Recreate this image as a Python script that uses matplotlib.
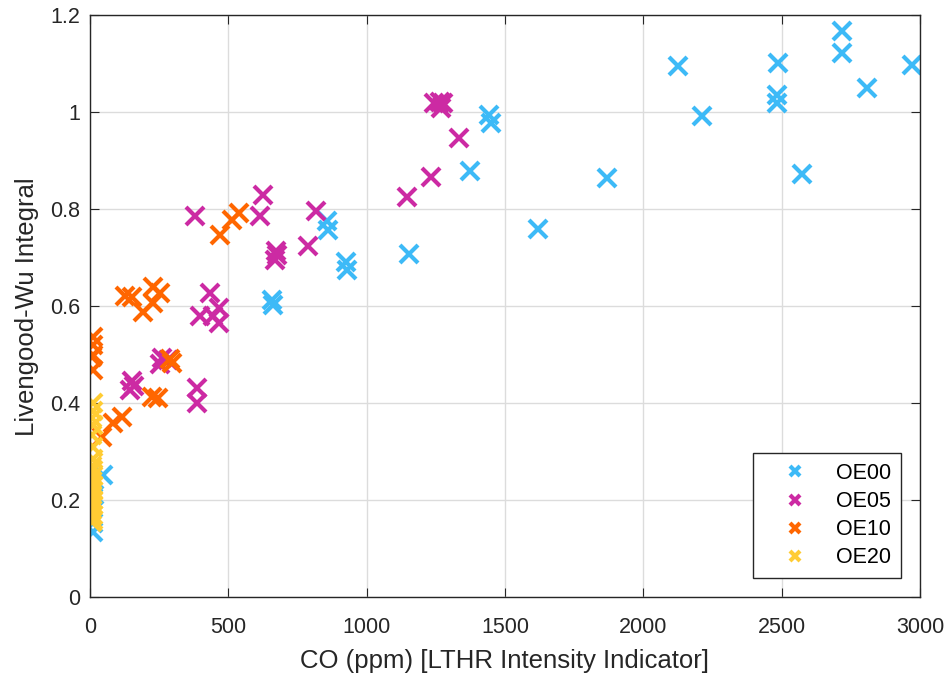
import matplotlib.pyplot as plt
import numpy as np
from matplotlib.ticker import FuncFormatter

plt.rcParams['font.family'] = ['Liberation Sans', 'DejaVu Sans']

# OE00
co_oe00 = [2717, 2717, 2972, 2127, 2488, 2810, 2484, 2484, 2211, 2575, 1870,
           1443, 1448, 1373, 1619, 1153, 858, 862, 925, 930, 657, 662,
           48, 10, 15, 12, 12]
lw_oe00 = [1.168, 1.122, 1.098, 1.096, 1.101, 1.050, 1.036, 1.019, 0.992, 0.873, 0.864,
           0.994, 0.979, 0.878, 0.759, 0.708, 0.775, 0.757, 0.691, 0.675, 0.613, 0.603,
           0.252, 0.235, 0.21, 0.153, 0.135]

# OE05
co_oe05 = [1245, 1265, 1275, 1268, 1334, 1231, 1145, 626, 614, 380, 816, 787,
           672, 675, 670, 434, 398, 467, 467, 445, 259, 283, 253, 151, 160, 145,
           386, 386]
lw_oe05 = [1.02, 1.022, 1.02, 1.008, 0.948, 0.867, 0.826, 0.829, 0.786, 0.787, 0.797, 0.725,
           0.715, 0.705, 0.695, 0.627, 0.579, 0.596, 0.565, 0.58, 0.493, 0.49, 0.482, 0.445, 0.435, 0.428,
           0.432, 0.40]

# OE10
co_oe10 = [540, 512, 470, 127, 151, 229, 253, 229, 193, 10, 12, 10, 8, 12,
           295, 290, 223, 247, 114, 84, 42]
lw_oe10 = [0.793, 0.778, 0.747, 0.621, 0.62, 0.64, 0.627, 0.606, 0.589, 0.537, 0.52, 0.5, 0.496, 0.469,
           0.4825, 0.492, 0.414, 0.411, 0.372, 0.359, 0.331]

# OE20
co_oe20 = [10, 12, 8, 11, 9, 12, 10, 8, 12, 10, 9, 11, 12, 8, 10, 11, 9, 12, 10, 8]
lw_oe20 = [0.40, 0.385, 0.37, 0.355, 0.335, 0.31, 0.285, 0.27, 0.262, 0.25, 0.24, 0.23,
           0.22, 0.21, 0.20, 0.19, 0.18, 0.17, 0.16, 0.155]

series = [('OE00', co_oe00, lw_oe00, '#3DBAF7'),
          ('OE05', co_oe05, lw_oe05, '#CC2AA3'),
          ('OE10', co_oe10, lw_oe10, '#FF6600'),
          ('OE20', co_oe20, lw_oe20, '#FFCC33')]

fig = plt.figure(figsize=(9.5, 6.75), dpi=100)
ax = fig.add_axes([0.0947, 0.1151, 0.8737, 0.8622])

for name, xs, ys, c in series:
    ax.plot(xs, ys, 'x', color=c, markersize=13, markeredgewidth=3, label=name,
            linestyle='none')

ax.set_xlim(0, 3000)
ax.set_ylim(0, 1.2)
ax.set_xticks(np.arange(0, 3001, 500))
ax.set_yticks(np.arange(0, 1.21, 0.2))
ax.yaxis.set_major_formatter(FuncFormatter(lambda v, p: '%g' % round(v, 2)))
ax.grid(True, color='#DCDCDC', linewidth=1)
ax.set_axisbelow(True)
ax.tick_params(direction='in', top=True, right=True, labelsize=15.5, length=6.5,
               colors='#262626')
ax.tick_params(axis='x', pad=14)
ax.tick_params(axis='y', pad=7)
for s in ax.spines.values():
    s.set_color('#262626')
    s.set_linewidth(1)

ax.set_xlabel('CO (ppm) [LTHR Intensity Indicator]', fontsize=18.5, color='#262626',
              labelpad=8)
ax.set_ylabel('Livengood-Wu Integral', fontsize=18.5, color='#262626', labelpad=8)

leg = ax.legend(loc='lower right', fontsize=15.5, markerscale=0.6, fancybox=False,
                edgecolor='#262626', framealpha=1, borderpad=0.45,
                labelspacing=0.33, handlelength=3.0, handletextpad=0.4,
                borderaxespad=0.9)
leg.get_frame().set_linewidth(1)

fig.savefig('out.png', dpi=100)
